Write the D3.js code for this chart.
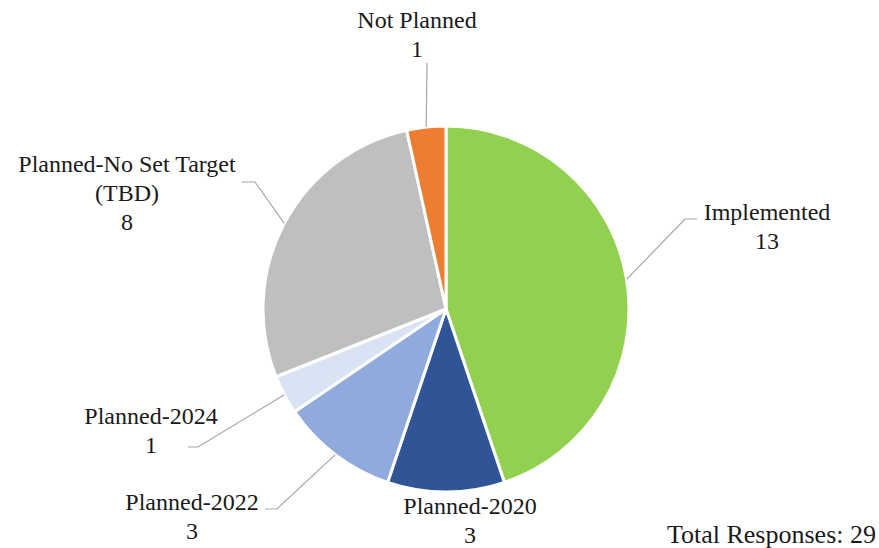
<!DOCTYPE html>
<html>
<head>
<meta charset="utf-8">
<script src="https://cdn.jsdelivr.net/npm/d3@7"></script>
<style>
  body { margin: 0; background: #fff; }
</style>
</head>
<body>
<svg id="chart"></svg>
<script>
// data
const categories = ["Implemented", "Planned-2020", "Planned-2022", "Planned-2024", "Planned-No Set Target (TBD)", "Not Planned"];
const values = [13, 3, 3, 1, 8, 1];
const labelLines = [["Implemented"], ["Planned-2020"], ["Planned-2022"], ["Planned-2024"], ["Planned-No Set Target", "(TBD)"], ["Not Planned"]];
const colors = ["#92d050", "#2f5597", "#8faadc", "#dae3f3", "#bfbfbf", "#ed7d31"];
const totalLabel = "Total Responses: ";

// layout of labels: text center x, first baseline y, and elbow of leader (null = no leader)
const labelLayout = [
    { x: 767, y: 220, elbow: [[697, 219], [685, 219]] },
    { x: 470, y: 514, elbow: null },
    { x: 192, y: 510, elbow: [[265, 509], [277, 509]] },
    { x: 151, y: 424, elbow: [[188, 447], [198, 447]] },
    { x: 127, y: 172, elbow: [[242, 182], [255, 182]] },
    { x: 417, y: 28, elbow: [[427, 63]] }
];

const width = 879, height = 548;
const cx = 446, cy = 309, radius = 183;
const lineH = 29;
const fontFam = "'Liberation Serif', 'DejaVu Serif', 'Times New Roman', serif";

const svg = d3.select("#chart")
    .attr("width", width)
    .attr("height", height);

const data = categories.map((c, i) => ({ name: c, value: values[i], lines: labelLines[i], color: colors[i], pos: labelLayout[i] }));

const pie = d3.pie()
    .value(d => d.value)
    .sort(null);

const arc = d3.arc()
    .innerRadius(0)
    .outerRadius(radius);

const arcs = pie(data);

const g = svg.append("g")
    .attr("transform", `translate(${cx}, ${cy})`);

g.selectAll("path")
    .data(arcs)
    .join("path")
    .attr("d", arc)
    .attr("fill", d => d.data.color)
    .attr("stroke", "#fff")
    .attr("stroke-width", 3)
    .attr("stroke-linejoin", "round");

// leader lines
arcs.forEach(d => {
    if (!d.data.pos.elbow) return;
    const mid = (d.startAngle + d.endAngle) / 2;
    const ex = cx + radius * Math.sin(mid);
    const ey = cy - radius * Math.cos(mid);
    const pts = d.data.pos.elbow.concat([[ex, ey]]);
    svg.append("path")
        .attr("d", d3.line()(pts))
        .attr("fill", "none")
        .attr("stroke", "#a6a6a6")
        .attr("stroke-width", 1.2);
});

// labels
arcs.forEach(d => {
    const t = svg.append("text")
        .attr("text-anchor", "middle")
        .attr("font-family", fontFam)
        .attr("font-size", 24)
        .attr("fill", "#1a1a1a");
    const lines = d.data.lines.concat([String(d.data.value)]);
    lines.forEach((s, i) => {
        t.append("tspan")
            .attr("x", d.data.pos.x)
            .attr("y", d.data.pos.y + i * lineH)
            .text(s);
    });
});

svg.append("text")
    .attr("x", 876)
    .attr("y", 543)
    .attr("text-anchor", "end")
    .attr("font-family", fontFam)
    .attr("font-size", 26)
    .attr("fill", "#1a1a1a")
    .text(totalLabel + d3.sum(values));
</script>
</body>
</html>
